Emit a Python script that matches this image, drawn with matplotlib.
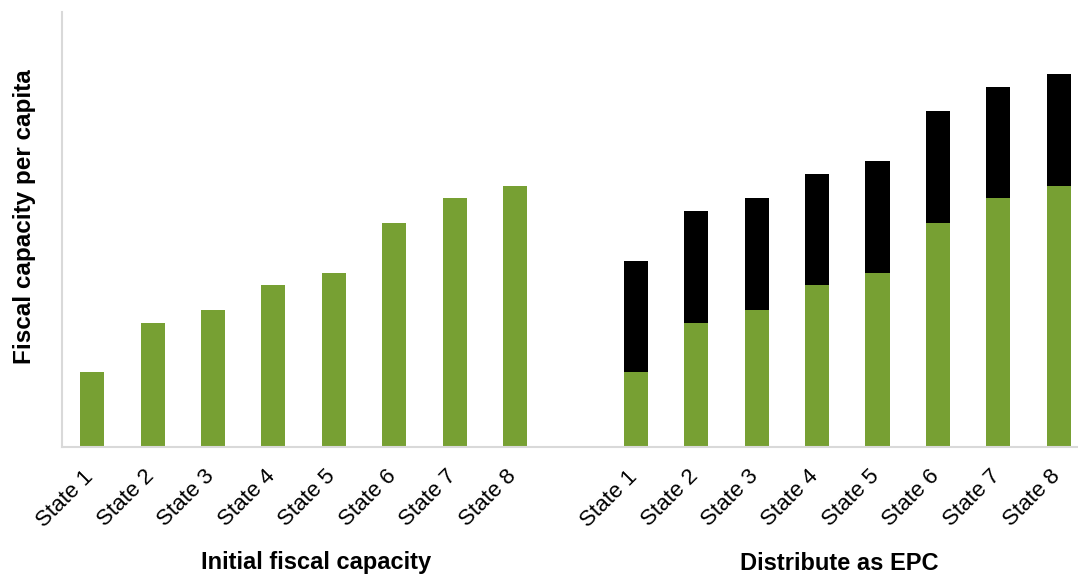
import matplotlib.pyplot as plt
import matplotlib.transforms as mtransforms
import numpy as np

plt.rcParams['font.family'] = ['Liberation Sans', 'DejaVu Sans']

states = ['State 1', 'State 2', 'State 3', 'State 4', 'State 5', 'State 6', 'State 7', 'State 8']
initial = [6, 10, 11, 13, 14, 18, 20, 21]
epc_add = [9, 9, 9, 9, 9, 9, 9, 9]
groups = ['Initial fiscal capacity', 'Distribute as EPC']

green = '#77a033'
x1 = np.arange(len(states))
x2 = x1 + len(states) + 1

fig = plt.figure(figsize=(10.78, 5.76), dpi=100)
ax = fig.add_axes([62/1078, 1-447/576, 1-62/1078, 435/576])

ax.bar(x1, initial, width=0.4, color=green)
ax.bar(x2, initial, width=0.4, color=green)
ax.bar(x2, epc_add, width=0.4, bottom=initial, color='black')

ax.set_xlim(-0.5, 16.32)
ax.set_ylim(0, 35)
ax.set_xticks(list(x1) + list(x2))
ax.set_xticklabels(states + states, rotation=45, ha='right', rotation_mode='anchor', fontsize=16)
ax.tick_params(axis='x', length=0, pad=8)
# nudge the rotated labels left/down like the original
offset = mtransforms.ScaledTranslation(-9/100, -8/100, fig.dpi_scale_trans)
for lab in ax.get_xticklabels():
    lab.set_transform(lab.get_transform() + offset)
ax.set_yticks([])
for s in ['top', 'right']:
    ax.spines[s].set_visible(False)
for s in ['left', 'bottom']:
    ax.spines[s].set_color('#d9d9d9')
    ax.spines[s].set_linewidth(1.5)

fig.text(25/1078, 1-217/576, 'Fiscal capacity per capita', rotation=90, fontsize=17.5,
         fontweight='bold', ha='center', va='center')
fig.text(316/1078, 1-563/576, groups[0], fontsize=17, fontweight='bold', ha='center', va='center')
fig.text(839/1078, 1-564/576, groups[1], fontsize=17, fontweight='bold', ha='center', va='center')

fig.savefig('out.png', dpi=100)
